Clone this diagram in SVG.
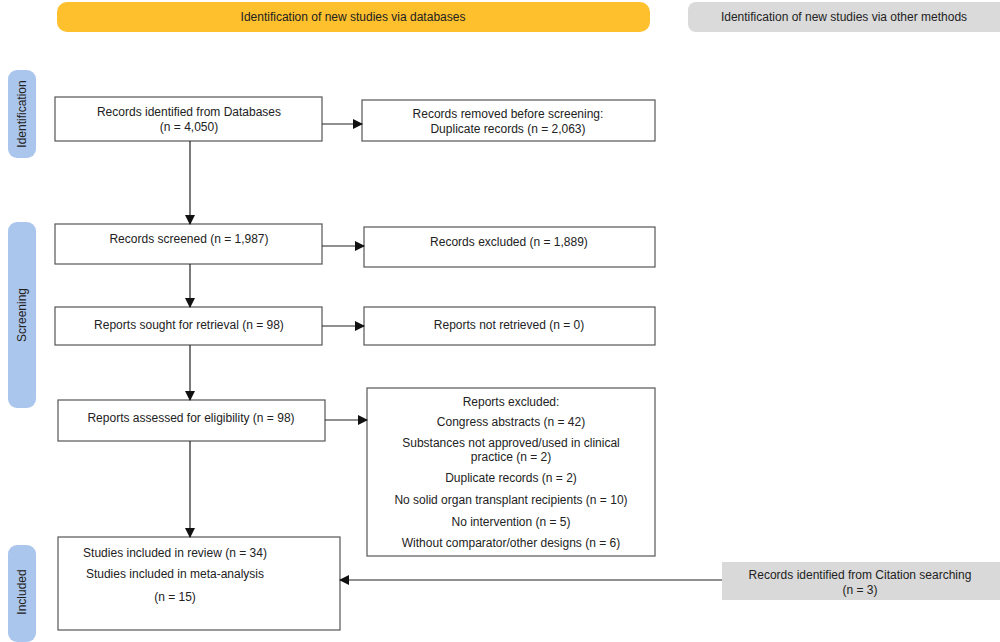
<svg xmlns="http://www.w3.org/2000/svg" width="1000" height="642" viewBox="0 0 1000 642">
<style>
text{font-family:"Liberation Sans",Arial,sans-serif;font-size:12px;fill:#222;text-anchor:middle}
.box{fill:#fff;stroke:#555;stroke-width:1.2}
.side{fill:#abc6ec}
.conn{stroke:#222;stroke-width:1.2;fill:none;marker-end:url(#ah)}
</style>
<defs>
<marker id="ah" markerWidth="10" markerHeight="10" refX="9" refY="5" orient="auto" markerUnits="userSpaceOnUse">
<path d="M0,0 L10,5 L0,10 Z" fill="#111"/>
</marker>
</defs>
<rect width="1000" height="642" fill="#fff"/>
<g id="hdr-db"><rect x="57" y="2" width="593" height="30" rx="10" fill="#fec02c"/><text x="353" y="21">Identification of new studies via databases</text></g>
<g id="hdr-other"><rect x="688" y="2" width="320" height="30" rx="8" fill="#dadada"/><text x="844" y="21">Identification of new studies via other methods</text></g>
<g id="side-ident"><rect class="side" x="8" y="70" width="28" height="88" rx="9"/><text transform="translate(26,114) rotate(-90)">Identification</text></g>
<g id="side-screen"><rect class="side" x="8" y="222" width="28" height="186" rx="9"/><text transform="translate(26,315) rotate(-90)">Screening</text></g>
<g id="side-incl"><rect class="side" x="8" y="545" width="28" height="97" rx="9"/><text transform="translate(26,592) rotate(-90)">Included</text></g>
<g id="n1"><rect class="box" x="55" y="97" width="267" height="44"/><text x="189" y="116">Records identified from Databases</text><text x="189" y="131">(n = 4,050)</text></g>
<g id="n2"><rect class="box" x="362" y="100" width="293" height="41"/><text x="508" y="118">Records removed before screening:</text><text x="508" y="133">Duplicate records (n = 2,063)</text></g>
<g id="n3"><rect class="box" x="55" y="224" width="267" height="40"/><text x="189" y="243">Records screened (n = 1,987)</text></g>
<g id="n4"><rect class="box" x="364" y="227" width="291" height="40"/><text x="509" y="246">Records excluded (n = 1,889)</text></g>
<g id="n5"><rect class="box" x="55" y="307" width="267" height="38"/><text x="189" y="329">Reports sought for retrieval (n = 98)</text></g>
<g id="n6"><rect class="box" x="364" y="307" width="291" height="38"/><text x="509" y="329">Reports not retrieved (n = 0)</text></g>
<g id="n7"><rect class="box" x="58" y="400" width="267" height="41"/><text x="191" y="422">Reports assessed for eligibility (n = 98)</text></g>
<g id="n8"><rect class="box" x="367" y="388" width="288" height="168"/>
<text x="511" y="406">Reports excluded:</text>
<text x="511" y="426">Congress abstracts (n = 42)</text>
<text x="511" y="447">Substances not approved/used in clinical</text>
<text x="511" y="461">practice (n = 2)</text>
<text x="511" y="482">Duplicate records (n = 2)</text>
<text x="511" y="504">No solid organ transplant recipients (n = 10)</text>
<text x="511" y="526">No intervention (n = 5)</text>
<text x="511" y="547">Without comparator/other designs (n = 6)</text></g>
<g id="n9"><rect class="box" x="58" y="537" width="282" height="93"/>
<text x="175" y="557">Studies included in review (n = 34)</text>
<text x="175" y="578">Studies included in meta-analysis</text>
<text x="175" y="601">(n = 15)</text></g>
<g id="n10"><rect x="722" y="562" width="285" height="38" fill="#d9d9d9"/><text x="860" y="579">Records identified from Citation searching</text><text x="860" y="594">(n = 3)</text></g>
<g id="connectors">
<line class="conn" x1="322" y1="124" x2="362" y2="124"/>
<line class="conn" x1="190" y1="141" x2="190" y2="224"/>
<line class="conn" x1="322" y1="246" x2="364" y2="246"/>
<line class="conn" x1="190" y1="264" x2="190" y2="307"/>
<line class="conn" x1="322" y1="326" x2="364" y2="326"/>
<line class="conn" x1="190" y1="345" x2="190" y2="400"/>
<line class="conn" x1="325" y1="420" x2="367" y2="420"/>
<line class="conn" x1="190" y1="441" x2="190" y2="537"/>
<line class="conn" x1="722" y1="580" x2="340" y2="580"/>
</g>
</svg>
